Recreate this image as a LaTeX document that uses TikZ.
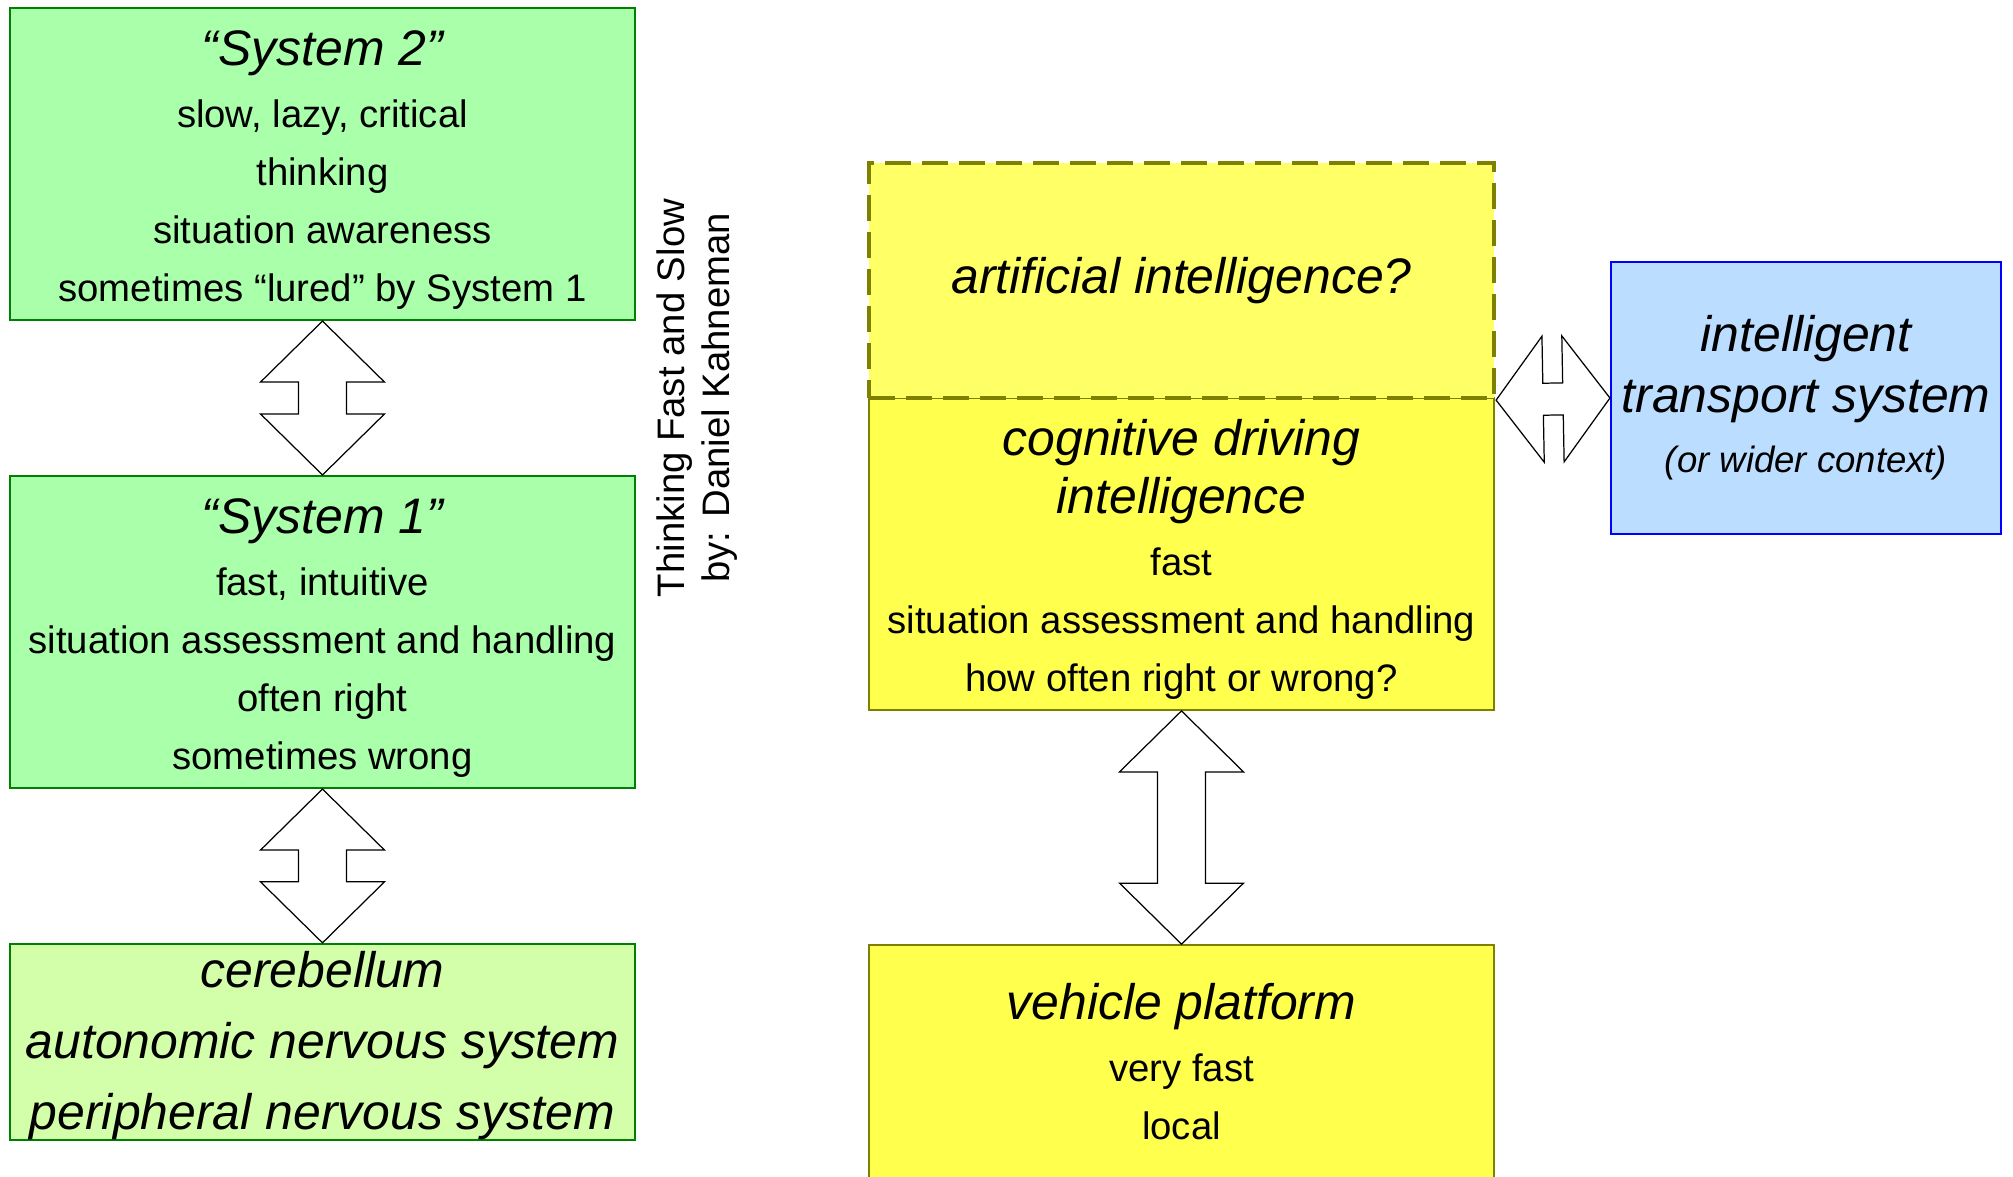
\documentclass[tikz,border=0pt]{standalone}
\usepackage{fontspec}
\setmainfont{Liberation Sans}
\usetikzlibrary{calc}

\definecolor{sysgreen}{HTML}{AAFFAA}
\definecolor{sysedge}{HTML}{008000}
\definecolor{cerebgreen}{HTML}{D4FFAA}
\definecolor{aiyellow}{HTML}{FFFF66}
\definecolor{cogyellow}{HTML}{FFFF4D}
\definecolor{olivedge}{HTML}{808000}
\definecolor{itsblue}{HTML}{BBDDFF}
\definecolor{itsedge}{HTML}{0000FF}

\newcommand{\titlefont}{\fontsize{14.2}{16.5}\selectfont\itshape}
% title line with a little extra head room
\newcommand{\titleline}[1]{{\titlefont\rule{0pt}{13.3pt}#1}}

% two-headed block arrow: from, to, head length, head half width, shaft half width
\newcommand{\dblarrow}[5]{%
  \draw[blockarrow] (#1) -- ($(#1)!#3!(#2)!#4!90:(#2)$) -- ($(#1)!#3!(#2)!#5!90:(#2)$)
    -- ($(#2)!#3!(#1)!#5!-90:(#1)$) -- ($(#2)!#3!(#1)!#4!-90:(#1)$) -- (#2)
    -- ($(#2)!#3!(#1)!#4!90:(#1)$) -- ($(#2)!#3!(#1)!#5!90:(#1)$)
    -- ($(#1)!#3!(#2)!#5!-90:(#2)$) -- ($(#1)!#3!(#2)!#4!-90:(#2)$) -- cycle;}

\begin{document}
\begin{tikzpicture}
    [x=0.1mm,y=-0.1mm,
     every node/.style={align=center,inner sep=0pt,font=\fontsize{10.9}{16.5}\selectfont},
     box/.style={minimum width=62.5mm,minimum height=31.2mm},
     greenbox/.style={box,fill=sysgreen,draw=sysedge,line width=0.6pt},
     yellowbox/.style={box,fill=cogyellow,draw=olivedge,line width=0.5pt},
     blockarrow/.style={draw=black,fill=white,line width=0.35pt,line join=miter}]
      \useasboundingbox (0,0) rectangle (2013,1176);

      % left column: Kahneman
      \node (sys2)[greenbox] at (322.5,164)
        {\titleline{“System 2”}\\[0.4mm]slow, lazy, critical\\thinking\\situation awareness\\sometimes “lured” by System 1};
      \node (sys1)[greenbox] at (322.5,632)
        {\titleline{“System 1”}\\[0.4mm]fast, intuitive\\situation assessment and handling\\often right\\sometimes wrong};
      \node (cereb)[greenbox,fill=cerebgreen,minimum height=19.4mm,
                    font=\fontsize{14.2}{20.2}\selectfont\itshape] at (322.5,1042)
        {\rule{0pt}{12.5pt}cerebellum\\autonomic nervous system\\peripheral nervous system};

      \node (book)[rotate=90,font=\fontsize{10.9}{12.8}\selectfont] at (697,398)
        {Thinking Fast and Slow\\by: Daniel Kahneman};

      % right column: vehicle
      \node (cog)[yellowbox] at (1181.5,554)
        {\titleline{cognitive driving}\\{\titlefont intelligence}\\[0.4mm]fast\\situation assessment and handling\\how often right or wrong?};
      \node (ai)[box,minimum height=23.5mm,fill=aiyellow,draw=olivedge,line width=1.2pt,
                 dash pattern=on 2.6mm off 1.1mm] at (1181.5,280.5)
        {\titlefont artificial intelligence?};
      \node (veh)[yellowbox,minimum height=23.4mm] at (1181.5,1062)
        {{\titlefont vehicle platform}\\[0.4mm]very fast\\local};
      \node (its)[fill=itsblue,draw=itsedge,line width=0.6pt,minimum width=39mm,minimum height=27.2mm,
                  font=\fontsize{14.2}{17.2}\selectfont\itshape] at (1806,398)
        {intelligent\\transport system\\{\fontsize{10.4}{15}\selectfont (or wider context)}};

      \dblarrow{sys2.south}{sys1.north}{6.1mm}{6.2mm}{2.4mm}
      \dblarrow{sys1.south}{cereb.north}{6.1mm}{6.2mm}{2.4mm}
      \dblarrow{cog.south}{veh.north}{6.1mm}{6.2mm}{2.4mm}
      \dblarrow{ai.south east}{its.west}{4.7mm}{6.3mm}{1.6mm}
    \end{tikzpicture}
\end{document}
